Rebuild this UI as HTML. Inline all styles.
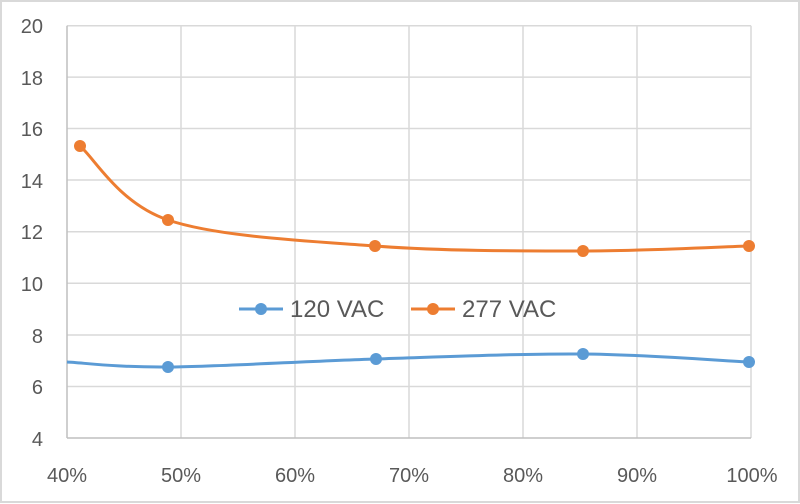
<!DOCTYPE html>
<html><head><meta charset="utf-8"><style>
html,body{margin:0;padding:0;background:#fff}
svg{display:block}
text{font-family:"Liberation Sans",sans-serif;fill:#595959}
</style></head><body>
<svg width="800" height="504" viewBox="0 0 800 504">
<rect x="1" y="1" width="798" height="501" fill="#fff" stroke="#d9d9d9" stroke-width="2"/>
<g stroke="#d9d9d9" stroke-width="1.5" fill="none">
<line x1="67" y1="25.7" x2="751" y2="25.7"/>
<line x1="67" y1="77.1" x2="751" y2="77.1"/>
<line x1="67" y1="128.5" x2="751" y2="128.5"/>
<line x1="67" y1="180" x2="751" y2="180"/>
<line x1="67" y1="231.7" x2="751" y2="231.7"/>
<line x1="67" y1="283.3" x2="751" y2="283.3"/>
<line x1="67" y1="335" x2="751" y2="335"/>
<line x1="67" y1="386.5" x2="751" y2="386.5"/>
<line x1="181" y1="25.7" x2="181" y2="438"/>
<line x1="295" y1="25.7" x2="295" y2="438"/>
<line x1="409" y1="25.7" x2="409" y2="438"/>
<line x1="523" y1="25.7" x2="523" y2="438"/>
<line x1="637" y1="25.7" x2="637" y2="438"/>
<line x1="751" y1="25.7" x2="751" y2="438"/>
</g>
<g stroke="#bfbfbf" stroke-width="1.5">
<line x1="67" y1="25.7" x2="67" y2="438"/>
<line x1="67" y1="438" x2="751" y2="438"/>
</g>
<g font-size="20" text-anchor="end">
<text x="43" y="33">20</text>
<text x="43" y="85">18</text>
<text x="43" y="136">16</text>
<text x="43" y="188">14</text>
<text x="43" y="239">12</text>
<text x="43" y="291">10</text>
<text x="43" y="343">8</text>
<text x="43" y="394">6</text>
<text x="43" y="446">4</text>
</g>
<g font-size="20" text-anchor="middle">
<text x="67" y="482">40%</text>
<text x="181" y="482">50%</text>
<text x="295" y="482">60%</text>
<text x="409" y="482">70%</text>
<text x="523" y="482">80%</text>
<text x="637" y="482">90%</text>
<text x="752" y="482">100%</text>
</g>
<path d="M80,146 C94.7,158.3 118.8,203.3 168,220 C217.2,236.7 305.8,240.8 375,246 C444.2,251.2 520.7,251 583,251 C645.3,251 721.3,246.8 749,246" fill="none" stroke="#ed7d31" stroke-width="3"/>
<path d="M67,362 C83.8,362.8 116.5,367.5 168,367 C219.5,366.5 306.8,361.2 376,359 C445.2,356.8 520.8,353.5 583,354 C645.2,354.5 721.3,360.7 749,362" fill="none" stroke="#5b9bd5" stroke-width="3"/>
<g fill="#ed7d31">
<circle cx="80" cy="146" r="6"/><circle cx="168" cy="220" r="6"/><circle cx="375" cy="246" r="6"/><circle cx="583" cy="251" r="6"/><circle cx="749" cy="246" r="6"/>
</g>
<g fill="#5b9bd5">
<circle cx="168" cy="367" r="6"/><circle cx="376" cy="359" r="6"/><circle cx="583" cy="354" r="6"/><circle cx="749" cy="362" r="6"/>
</g>
<line x1="239" y1="309" x2="283" y2="309" stroke="#5b9bd5" stroke-width="3"/>
<circle cx="261" cy="309" r="6" fill="#5b9bd5"/>
<text x="290" y="317" font-size="24">120 VAC</text>
<line x1="411" y1="309" x2="455" y2="309" stroke="#ed7d31" stroke-width="3"/>
<circle cx="433" cy="309" r="6" fill="#ed7d31"/>
<text x="462" y="317" font-size="24">277 VAC</text>
</svg>
</body></html>
